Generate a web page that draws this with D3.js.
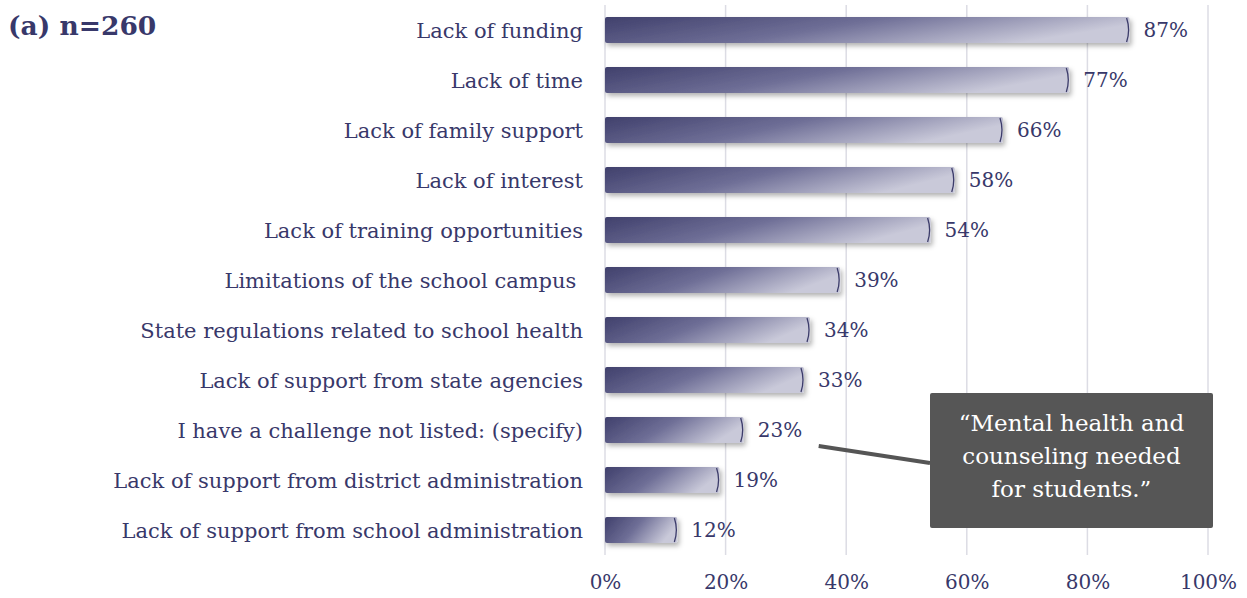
<!DOCTYPE html>
<html>
<head>
<meta charset="utf-8">
<script src="https://cdn.jsdelivr.net/npm/d3@7"></script>
<style>
  body { margin: 0; background: #fff; }
  svg text { font-family: "DejaVu Serif", serif; }
</style>
</head>
<body>
<div id="chart"></div>
<script>
// ============================================
// DATA
// ============================================
const categories = [
  "Lack of funding",
  "Lack of time",
  "Lack of family support",
  "Lack of interest",
  "Lack of training opportunities",
  "Limitations of the school campus ",
  "State regulations related to school health",
  "Lack of support from state agencies",
  "I have a challenge not listed: (specify)",
  "Lack of support from district administration",
  "Lack of support from school administration",
];
const values = [87, 77, 66, 58, 54, 39, 34, 33, 23, 19, 12];
const tickValues = [0, 20, 40, 60, 80, 100];
const titleText = "(a) n=260";
const calloutLines = ["\u201CMental health and", "counseling needed", "for students.\u201D"];
const calloutIndex = 8;

// ============================================
// SETUP
// ============================================
const width = 1247, height = 598;
const margin = { top: 5, right: 39, bottom: 43, left: 605 };
const textColor = "#38386a";

const svg = d3.select("#chart").append("svg")
  .attr("width", width)
  .attr("height", height);

const defs = svg.append("defs");
const grad = defs.append("linearGradient")
  .attr("id", "barGrad")
  .attr("x1", "0%").attr("y1", "0%")
  .attr("x2", "100%").attr("y2", "30%");
grad.append("stop").attr("offset", "0%").attr("stop-color", "#40406c");
grad.append("stop").attr("offset", "50%").attr("stop-color", "#6f6f97");
grad.append("stop").attr("offset", "100%").attr("stop-color", "#c9c9d9");

const shadow = defs.append("filter").attr("id", "shadow")
  .attr("x", "-5%").attr("y", "-20%").attr("width", "115%").attr("height", "170%");
shadow.append("feDropShadow")
  .attr("dx", 2).attr("dy", 3).attr("stdDeviation", 2.5)
  .attr("flood-color", "#000").attr("flood-opacity", 0.3);

const x = d3.scaleLinear().domain([0, 100]).range([margin.left, width - margin.right]);
const y = d3.scaleBand().domain(categories)
  .range([margin.top, height - margin.bottom]).paddingInner(0.48).paddingOuter(0.24);

// gridlines
svg.append("g")
  .selectAll("line")
  .data(tickValues)
  .join("line")
  .attr("x1", d => x(d)).attr("x2", d => x(d))
  .attr("y1", 5).attr("y2", 555)
  .attr("stroke", "#dcdce4")
  .attr("stroke-width", 1.5);

// axis labels
const axis = d3.axisBottom(x).tickValues(tickValues).tickFormat(d => d + "%").tickSize(0);
const axisG = svg.append("g").attr("transform", "translate(0,572)").call(axis);
axisG.select(".domain").remove();
axisG.selectAll("text")
  .attr("fill", textColor)
  .style("font-size", "20px")
  .style("font-family", "DejaVu Serif, serif");

// bars
const bars = svg.append("g");
bars.selectAll("rect")
  .data(values)
  .join("rect")
  .attr("x", x(0))
  .attr("y", (d, i) => y(categories[i]))
  .attr("width", d => x(d) - x(0))
  .attr("height", y.bandwidth())
  .attr("rx", 2)
  .attr("fill", "url(#barGrad)")
  .attr("filter", "url(#shadow)");

// curved end cap edge
bars.selectAll("path")
  .data(values)
  .join("path")
  .attr("d", (d, i) => {
    const xe = x(d), y0 = y(categories[i]), h = y.bandwidth();
    return `M${xe - 3},${y0 + 1} Q${xe + 1},${y0 + h * 0.5} ${xe - 3},${y0 + h - 1}`;
  })
  .attr("fill", "none")
  .attr("stroke", "#3c3c6a")
  .attr("stroke-width", 1.3);

// value labels
svg.append("g")
  .selectAll("text")
  .data(values)
  .join("text")
  .attr("x", d => x(d) + 14)
  .attr("y", (d, i) => y(categories[i]) + y.bandwidth() / 2)
  .attr("dy", "0.36em")
  .attr("fill", textColor)
  .style("font-size", "20px")
  .text(d => d + "%");

// category labels
svg.append("g")
  .selectAll("text")
  .data(categories)
  .join("text")
  .attr("x", 583)
  .attr("y", d => y(d) + y.bandwidth() / 2)
  .attr("dy", "0.36em")
  .attr("text-anchor", "end")
  .attr("fill", textColor)
  .style("font-size", "21px")
  .style("white-space", "pre")
  .text(d => d);

// title
svg.append("text")
  .attr("x", 8).attr("y", 35)
  .attr("fill", textColor)
  .style("font-size", "26.5px")
  .style("font-weight", "bold")
  .text(titleText);

// callout
const cy = y(categories[calloutIndex]) + y.bandwidth() / 2;
svg.append("line")
  .attr("x1", x(values[calloutIndex]) + 75).attr("y1", cy + 16)
  .attr("x2", 930).attr("y2", cy + 33)
  .attr("stroke", "#555")
  .attr("stroke-width", 4);

svg.append("rect")
  .attr("x", 930).attr("y", 393)
  .attr("width", 283).attr("height", 135)
  .attr("rx", 2)
  .attr("fill", "#565656");

svg.append("text")
  .attr("x", 930 + 283 / 2)
  .attr("y", 431)
  .attr("text-anchor", "middle")
  .attr("fill", "#fff")
  .style("font-size", "23px")
  .selectAll("tspan")
  .data(calloutLines)
  .join("tspan")
  .attr("x", 930 + 283 / 2)
  .attr("dy", (d, i) => (i === 0 ? 0 : 33))
  .text(d => d);
</script>
</body>
</html>
